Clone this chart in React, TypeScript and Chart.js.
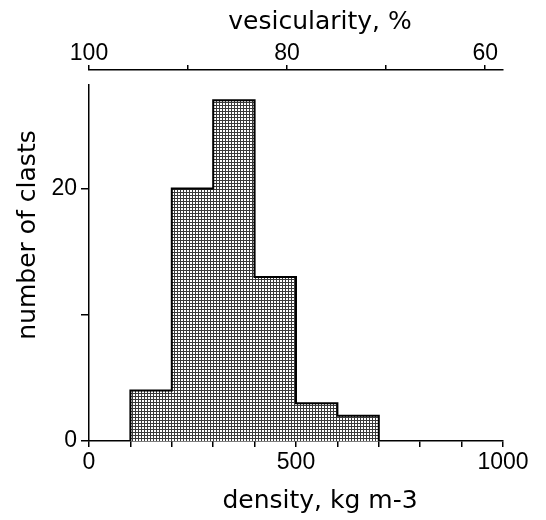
import React, { useEffect, useRef } from "react";
import { Chart, registerables } from "chart.js";

Chart.register(...registerables);

// ---- data ----
const binEdges = [100, 200, 300, 400, 500, 600, 700];
const clastCounts = [4, 20, 27, 13, 3, 2];
const densityTicks = [0, 100, 200, 300, 400, 500, 600, 700, 800, 900, 1000];
const densityLabels = [0, 500, 1000];
const countTicks = [0, 10, 20];
const countLabels = [0, 20];
const vesicularityTicks = [100, 90, 80, 70, 60];
const vesicularityLabels = [100, 80, 60];
const densityRange = [0, 1000];
const countRange = [0, 28.2];
const vesicularityRange = [58.2, 100];

const xTitle = "density, kg m-3";
const yTitle = "number of clasts";
const topTitle = "vesicularity, %";

const TICK_FONT = { family: "'Liberation Sans', Arial, sans-serif", size: 23, lineHeight: 1 };
const TITLE_FONT = { family: "'DejaVu Sans', sans-serif", size: 25, lineHeight: 1.2 };

function makePattern(ctx: CanvasRenderingContext2D) {
  const tile = document.createElement("canvas");
  tile.width = 3;
  tile.height = 3;
  const t = tile.getContext("2d")!;
  t.fillStyle = "#ffffff";
  t.fillRect(0, 0, 3, 3);
  t.fillStyle = "#3a3a3a";
  t.fillRect(0, 0, 3, 1);
  t.fillRect(0, 0, 1, 3);
  return ctx.createPattern(tile, "repeat");
}

const shiftPlugin = {
  id: "shiftBoxes",
  afterLayout(chart: any) {
    const s = chart.scales;
    s.x2.top -= 15;
    s.x2.bottom -= 15;
    s.xTitleT.left += 24;
    s.xTitleT.right += 24;
    s.xTitleB.left += 24;
    s.xTitleB.right += 24;
    s.yTitleAxis.top -= 28;
    s.yTitleAxis.bottom -= 28;
  },
};

function setTicks(values: number[]) {
  return (scale: any) => {
    scale.ticks = values.map((v) => ({ value: v }));
  };
}

function labelOnly(values: number[]) {
  return (v: any) => (values.includes(Number(v)) ? String(v) : "");
}

const axisLine = { display: true, color: "#000", width: 1.5 };

function titleAxis(position: string, text: string, padding: any, size: number) {
  return {
    type: "linear",
    position,
    min: 0,
    max: 1,
    weight: 1,
    grid: { display: false },
    border: { display: false },
    ticks: { display: false },
    title: { display: true, text, color: "#000", font: TITLE_FONT, padding },
    afterFit: (scale: any) => {
      if (position === "left") scale.width = size;
      else scale.height = size;
    },
  };
}

export default function App() {
  const ref = useRef<HTMLCanvasElement | null>(null);

  useEffect(() => {
    const canvas = ref.current!;
    const ctx = canvas.getContext("2d")!;
    const pattern = makePattern(ctx);

    const points = [
      { x: binEdges[0], y: 0 },
      ...clastCounts.map((c, i) => ({ x: binEdges[i], y: c })),
      { x: binEdges[binEdges.length - 1], y: 0 },
    ];

    const chart = new Chart(ctx, {
      type: "line",
      data: {
        datasets: [
          {
            data: points,
            xAxisID: "x",
            yAxisID: "y",
            stepped: "before",
            borderColor: "#000",
            borderWidth: 2,
            backgroundColor: pattern as any,
            fill: "origin",
            pointRadius: 0,
            tension: 0,
          } as any,
        ],
      },
      options: {
        responsive: false,
        animation: false,
        devicePixelRatio: 1,
        layout: { padding: { left: 0, right: 43, top: 0, bottom: 0 } },
        plugins: { legend: { display: false }, tooltip: { enabled: false } },
        scales: {
          x: {
            type: "linear",
            position: "bottom",
            weight: 0,
            min: densityRange[0],
            max: densityRange[1],
            afterBuildTicks: setTicks(densityTicks),
            grid: { display: true, drawOnChartArea: false, drawTicks: true, tickLength: 6, color: "#000", lineWidth: 1.5 },
            border: axisLine,
            ticks: { callback: labelOnly(densityLabels), color: "#000", font: TICK_FONT, padding: 4, maxRotation: 0, autoSkip: false },
            afterFit: (scale: any) => {
              scale.height = 35;
            },
          },
          y: {
            type: "linear",
            position: "left",
            weight: 0,
            min: countRange[0],
            max: countRange[1],
            afterBuildTicks: setTicks(countTicks),
            grid: { display: true, drawOnChartArea: false, drawTicks: true, tickLength: 8, color: "#000", lineWidth: 1.5 },
            border: axisLine,
            ticks: { callback: labelOnly(countLabels), color: "#000", font: TICK_FONT, padding: 4, autoSkip: false },
            afterFit: (scale: any) => {
              scale.width = 45;
            },
          },
          x2: {
            type: "linear",
            position: "top",
            weight: 0,
            reverse: true,
            min: vesicularityRange[0],
            max: vesicularityRange[1],
            afterBuildTicks: setTicks(vesicularityTicks),
            grid: { display: true, drawOnChartArea: false, drawTicks: true, tickLength: 5, color: "#000", lineWidth: 1.5 },
            border: axisLine,
            ticks: { callback: labelOnly(vesicularityLabels), color: "#000", font: TICK_FONT, padding: 0, maxRotation: 0, autoSkip: false },
            afterFit: (scale: any) => {
              scale.height = 45;
            },
          },
          xTitleT: titleAxis("top", topTitle, { top: 7, bottom: 0 }, 40),
          xTitleB: titleAxis("bottom", xTitle, { top: 0, bottom: 4 }, 44),
          yTitleAxis: titleAxis("left", yTitle, { top: 13, bottom: 0 }, 44),
        } as any,
      },
      plugins: [shiftPlugin],
    });

    return () => chart.destroy();
  }, []);

  return (
    <div style={{ position: "fixed", left: 0, top: 0, width: 546, height: 520, background: "#fff" }}>
      <canvas ref={ref} width={546} height={520} style={{ width: 546, height: 520, display: "block" }} />
    </div>
  );
}
